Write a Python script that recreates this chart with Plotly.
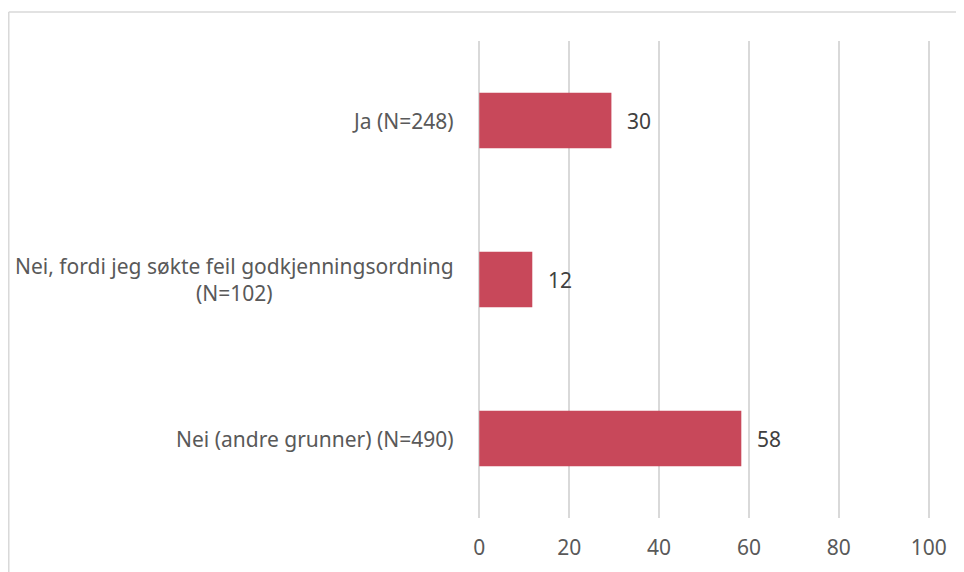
import plotly.graph_objects as go

categories = ["Ja (N=248)", "Nei, fordi jeg søkte feil godkjenningsordning<br>(N=102)", "Nei (andre grunner) (N=490)"]
values = [29.4, 11.8, 58.3]
value_labels = ["30", "12", "58"]
x_ticks = [0, 20, 40, 60, 80, 100]

bar_color = "#C8485A"
grey_text = "#595959"
grid_color = "#D9D9D9"
font_family = "Noto Sans, Open Sans, sans-serif"

# page is rendered with an 8px body margin; compensate
OFF = 8
W, H = 964, 572
X0_PX, X100_PX = 479, 929          # page pixel positions of 0 and 100
PAD = 0.5                           # small range padding so edge gridlines are drawn
ppu = (X100_PX - X0_PX) / 100.0
left_page = X0_PX - PAD * ppu
right_page = X100_PX + PAD * ppu
ML = left_page - OFF
MR = W - (right_page - OFF)
MT = 41 - OFF
MB = 54 + OFF
pw = W - ML - MR
ph = H - MT - MB

fig = go.Figure()
fig.add_trace(go.Bar(
    y=categories, x=values, orientation="h",
    marker=dict(color=bar_color, line=dict(width=0)),
    width=0.35, hoverinfo="skip",
))

annotations = []
for cat, v, lab in zip(categories, values, value_labels):
    annotations.append(dict(x=v, y=cat, xref="x", yref="y", text=lab, showarrow=False,
                            xanchor="left", xshift=14,
                            font=dict(family=font_family, size=21, color="#404040")))
    annotations.append(dict(x=0, y=cat, xref="x", yref="y", text=cat, showarrow=False,
                            xanchor="right", xshift=-23, align="center",
                            font=dict(family=font_family, size=21, color=grey_text)))

def px_x(p):
    return (p - OFF - ML) / pw

def px_y(p):
    return (H - MB - (p - OFF)) / ph

shapes = [
    dict(type="line", xref="paper", yref="paper", x0=px_x(8), x1=px_x(8), y0=px_y(12), y1=px_y(H + 20),
         line=dict(color=grid_color, width=1.5)),
    dict(type="line", xref="paper", yref="paper", x0=px_x(8), x1=px_x(W + 20), y0=px_y(12), y1=px_y(12),
         line=dict(color=grid_color, width=1.5)),
]

fig.update_layout(
    width=W, height=H,
    margin=dict(l=ML, r=MR, t=MT, b=MB),
    paper_bgcolor="white", plot_bgcolor="white",
    showlegend=False,
    annotations=annotations,
    shapes=shapes,
    xaxis=dict(range=[-PAD, 100 + PAD], tickvals=x_ticks, showgrid=True, gridcolor=grid_color, gridwidth=1.5,
               zeroline=False, showline=False, ticks="", ticklabelstandoff=15,
               tickfont=dict(family=font_family, size=21, color=grey_text), fixedrange=True),
    yaxis=dict(categoryorder="array", categoryarray=categories[::-1], showticklabels=False,
               showgrid=False, zeroline=False, showline=False, fixedrange=True),
)

fig.write_html("out.html")
